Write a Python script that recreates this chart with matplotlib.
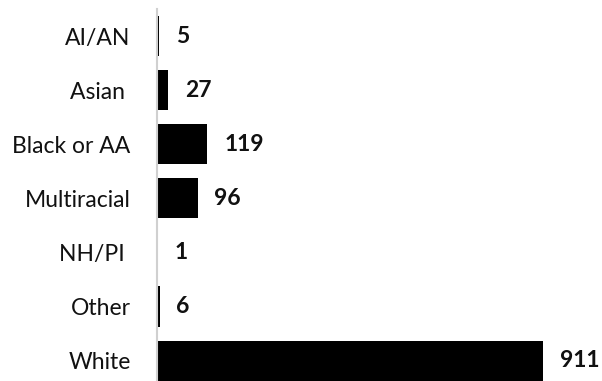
import numpy as np
from matplotlib import pyplot as plt

plt.rcParams['font.family'] = ['Lato', 'DejaVu Sans']

categories = ['AI/AN', 'Asian ', 'Black or AA', 'Multiracial', 'NH/PI ', 'Other', 'White']
counts = [5, 27, 119, 96, 1, 6, 911]

fig = plt.figure(figsize=(6.02, 3.81), dpi=100)
ax = fig.add_axes([157 / 602, 0, 445 / 602, 372 / 381])

ypos = np.arange(len(categories))
ax.barh(ypos, counts, height=0.74, color='black')

for y, v in zip(ypos, counts):
	ax.annotate(str(v), (v, y), xytext=(12, 0), textcoords='offset points',
		va='center', ha='left', fontsize=16.5, fontweight='bold', color='#111111')

ax.set_xlim(0, 1050)
ax.set_ylim(6.377, -0.5)
ax.set_yticks(ypos)
ax.set_yticklabels(categories, fontsize=16.5, color='#111111')
ax.tick_params(axis='y', length=0, pad=19)
ax.set_xticks([])

for side in ['top', 'right', 'bottom']:
	ax.spines[side].set_visible(False)
ax.spines['left'].set_color('#d0d0d0')
ax.spines['left'].set_linewidth(1.5)

plt.savefig('out.png', dpi=100)
